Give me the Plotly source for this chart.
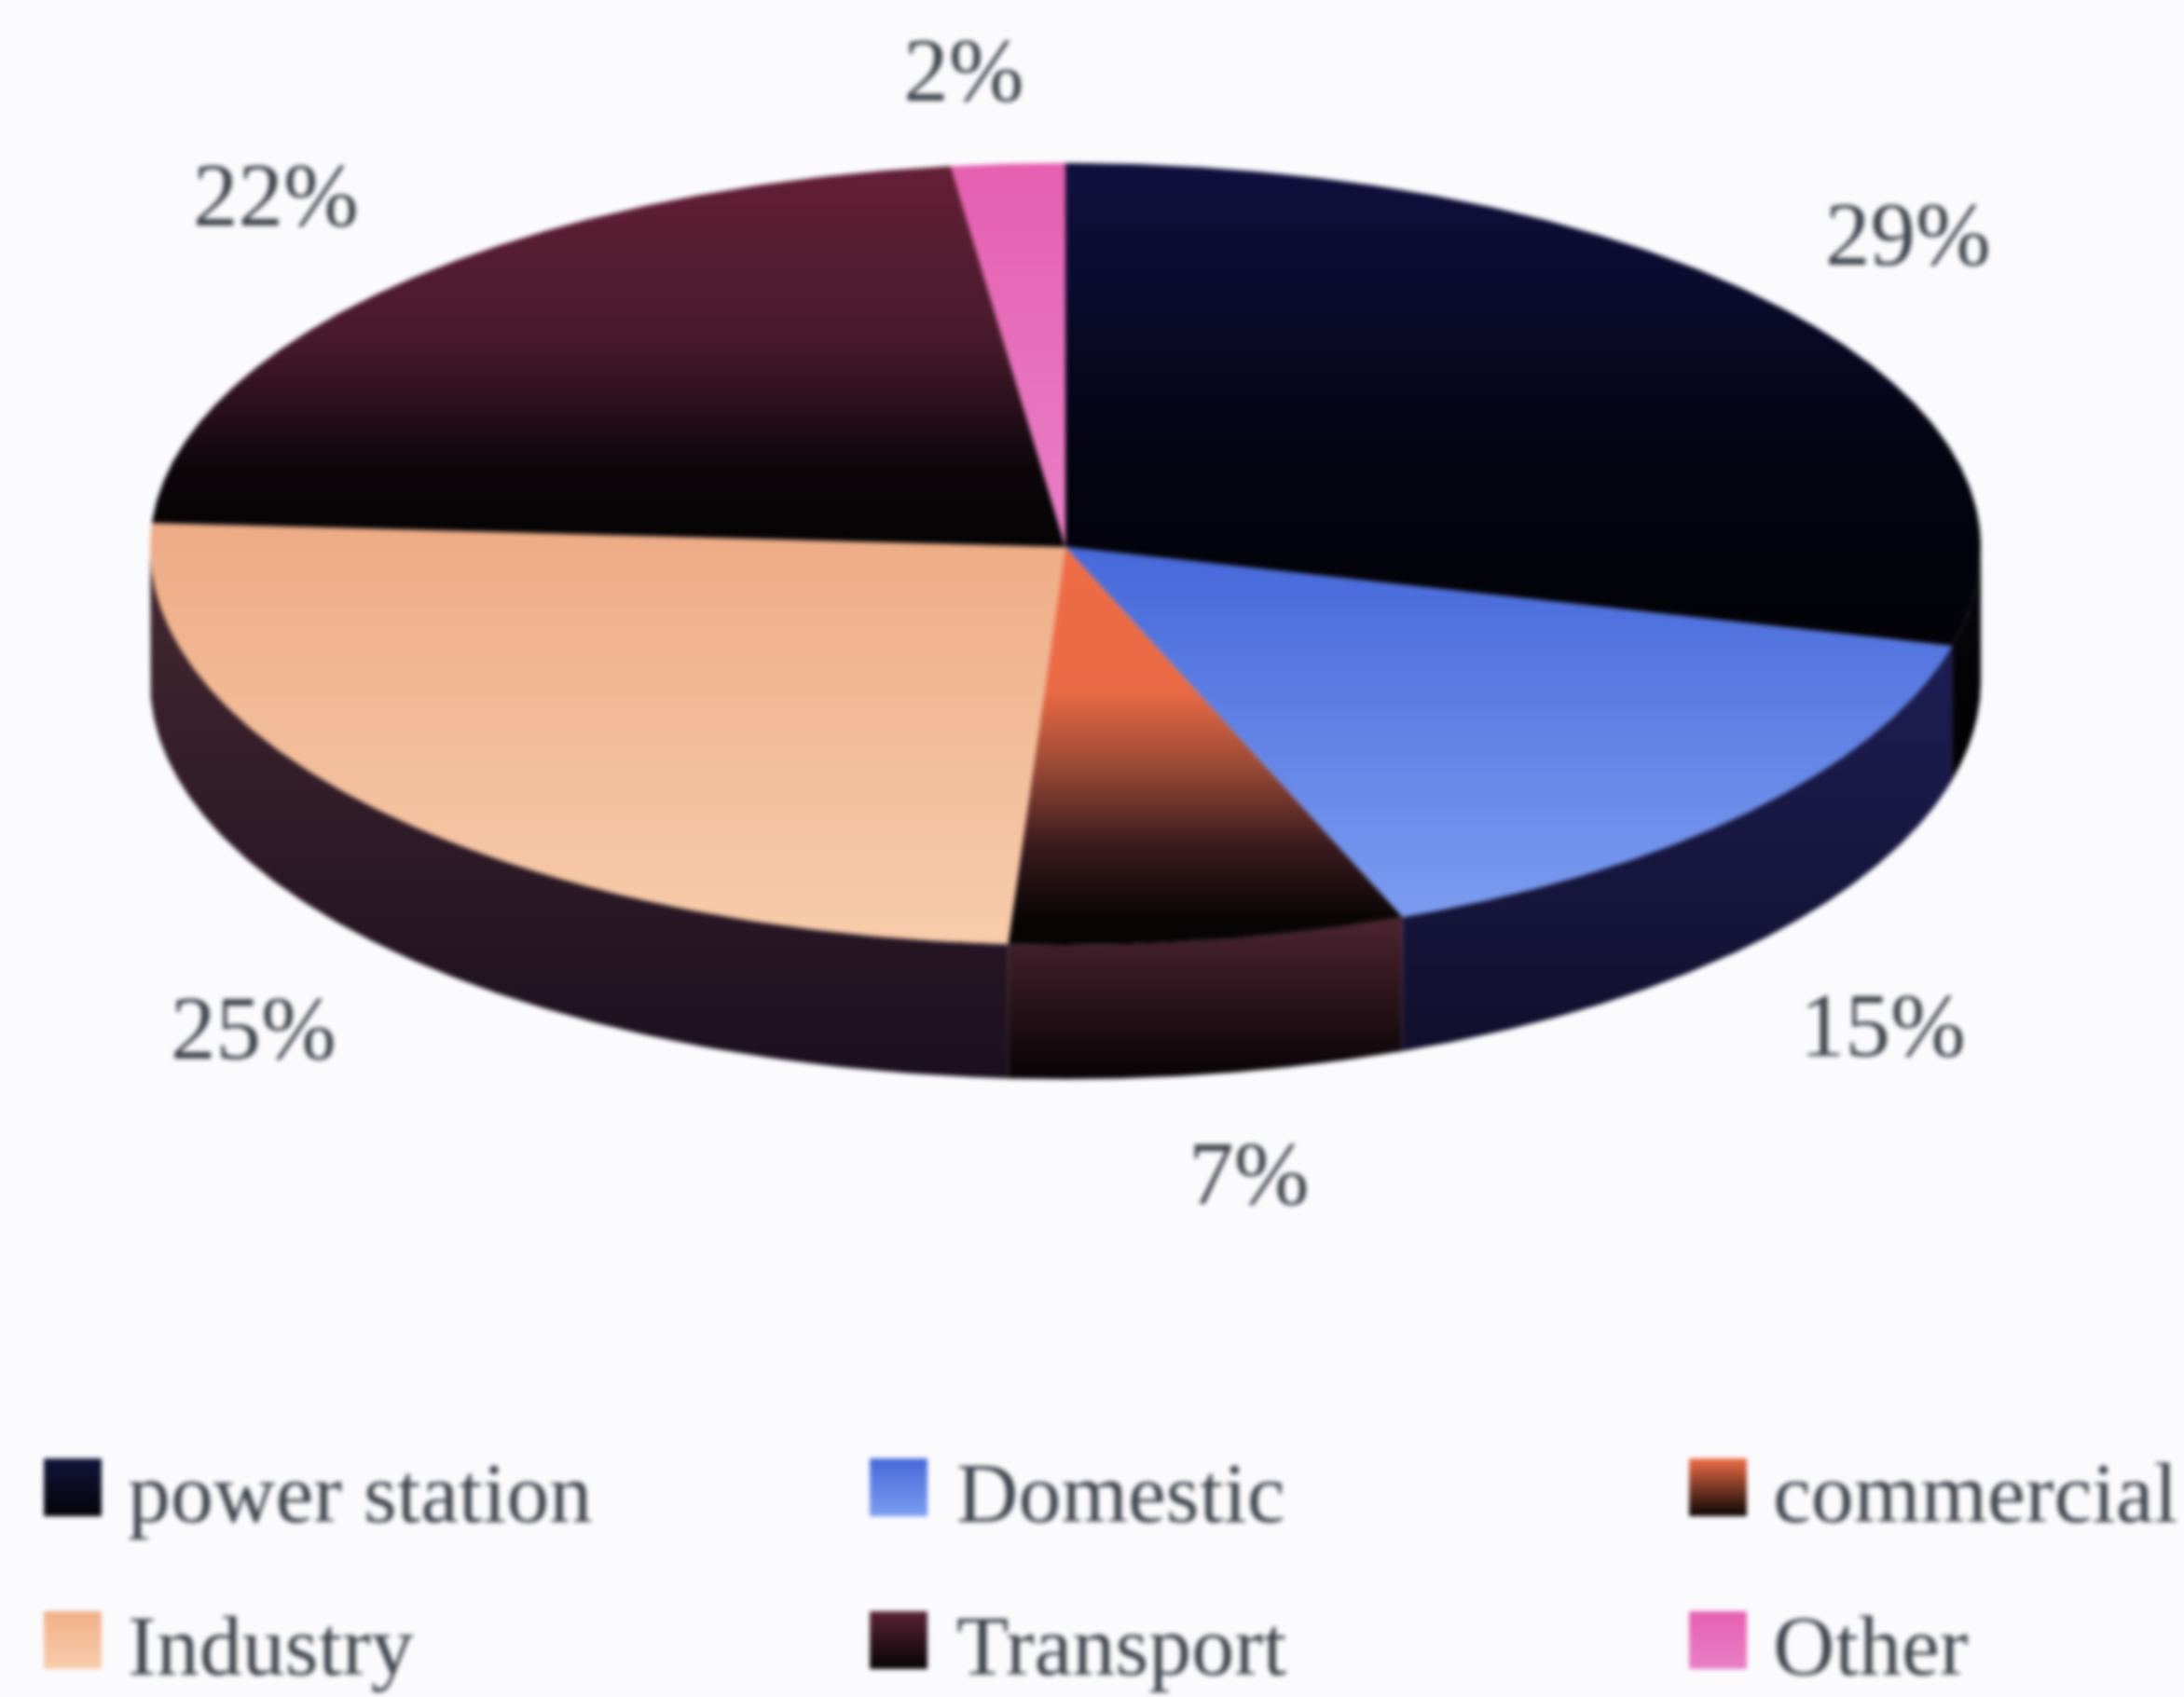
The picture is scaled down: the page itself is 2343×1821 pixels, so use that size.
import numpy as np
import plotly.graph_objects as go

# ---- data ----
categories = ["power station", "Domestic", "commercial", "Industry", "Transport", "Other"]
shares = [29, 15, 7, 25, 22, 2]
share_labels = ["29%", "15%", "7%", "25%", "22%", "2%"]

# ---- styles ----
top_scales = [
    [[0, "#10103e"], [0.3, "#0a0a2a"], [0.6, "#040412"], [1, "#020207"]],
    [[0, "#4668da"], [1, "#7b9cf0"]],
    [[0, "#ee6c46"], [0.36, "#e96a44"], [0.55, "#9a4a35"], [0.75, "#3a1a1e"], [0.93, "#0a0506"], [1, "#050303"]],
    [[0, "#edab85"], [1, "#f8ccab"]],
    [[0, "#641f36"], [0.45, "#481a2c"], [0.8, "#0c0609"], [1, "#050304"]],
    [[0, "#e65fb0"], [1, "#e87fc6"]],
]
side_scales = [
    [[0, "#06060c"], [1, "#020204"]],
    [[0, "#1d1e54"], [1, "#110f2c"]],
    [[0, "#4c2432"], [1, "#080305"]],
    [[0, "#45282f"], [1, "#1b0f1f"]],
    [[0, "#222222"], [1, "#111111"]],
    [[0, "#222222"], [1, "#111111"]],
]
legend_colors = [("#14143c", "#050308"), ("#4668da", "#7b9cf0"), ("#ee6c46", "#0a0506"),
                 ("#f0b088", "#f8ccab"), ("#5a2436", "#060304"), ("#e65fb0", "#e87fc6")]
TEXT = "#3f454d"
BG = "#fbfbfe"
W, H = 2343, 1821

# ---- pie geometry (pixels of the page) ----
CX, CY, RX, RY_UP, RY_LOW, DEPTH = 1143, 587, 982, 412, 427, 144
LABEL_POS = [(2047, 260), (2020, 1109), (1340, 1268), (272, 1112), (296, 218), (1034, 84)]
LEG_X = [78, 964, 1843]
LEG_TX = [137, 1026, 1902]
LEG_Y = [1596, 1760]


def rim(t):
    c = np.cos(t)
    return CX + RX * np.sin(t), CY - np.where(c > 0, RY_UP, RY_LOW) * c


def flipped(scale):
    # the y axis runs downward, so a top-to-bottom ramp has to be given bottom-up
    return [[1 - p, c] for p, c in reversed(scale)]


edges = np.cumsum([0] + shares) / sum(shares) * 2 * np.pi
fig = go.Figure()

# side wall (front half only)
for i in range(len(shares)):
    a, b = max(edges[i], np.pi / 2), min(edges[i + 1], 3 * np.pi / 2)
    if a >= b:
        continue
    t = np.linspace(a, b, 120)
    x, y = rim(t)
    fig.add_trace(go.Scatter(
        x=np.r_[x, x[::-1]], y=np.r_[y, (y + DEPTH)[::-1]],
        mode="lines", line=dict(width=0), fill="toself", hoverinfo="skip",
        fillgradient=dict(type="vertical", colorscale=flipped(side_scales[i]))))

# top surface
for i, name in enumerate(categories):
    t = np.linspace(edges[i], edges[i + 1], 160)
    x, y = rim(t)
    fig.add_trace(go.Scatter(
        x=np.r_[CX, x, CX], y=np.r_[CY, y, CY], name=name,
        mode="lines", line=dict(width=0), fill="toself", hoverinfo="name",
        fillgradient=dict(type="vertical", colorscale=flipped(top_scales[i]))))

# percentage labels
fig.add_trace(go.Scatter(
    x=[p[0] for p in LABEL_POS], y=[p[1] for p in LABEL_POS], text=share_labels,
    mode="text", textposition="middle center", hoverinfo="skip",
    textfont=dict(family="Liberation Serif", size=97, color=TEXT)))

# legend built as a 3 x 2 grid
for i, name in enumerate(categories):
    col, row = i % 3, i // 3
    fig.add_trace(go.Scatter(
        x=[LEG_X[col]], y=[LEG_Y[row]], mode="markers", hoverinfo="skip",
        marker=dict(symbol="square", size=62, color=legend_colors[i][0], line=dict(width=0),
                    gradient=dict(type="vertical", color=legend_colors[i][1]))))
    fig.add_trace(go.Scatter(
        x=[LEG_TX[col]], y=[LEG_Y[row] + 14], text=[name], mode="text",
        textposition="middle right", hoverinfo="skip",
        textfont=dict(family="Liberation Serif", size=92, color=TEXT)))

fig.update_layout(
    width=W, height=H, margin=dict(l=0, r=0, t=0, b=0), showlegend=False,
    paper_bgcolor=BG, plot_bgcolor=BG,
    xaxis=dict(range=[0, W], visible=False, fixedrange=True),
    yaxis=dict(range=[H, 0], visible=False, fixedrange=True),
)
fig.write_html("out.html", config=dict(displayModeBar=False), post_script=(
    "document.body.style.margin='0';document.body.style.background='" + BG + "';"
    "var s=document.querySelector('.plot-container');if(s){s.style.filter='blur(2.5px)';}"
))
